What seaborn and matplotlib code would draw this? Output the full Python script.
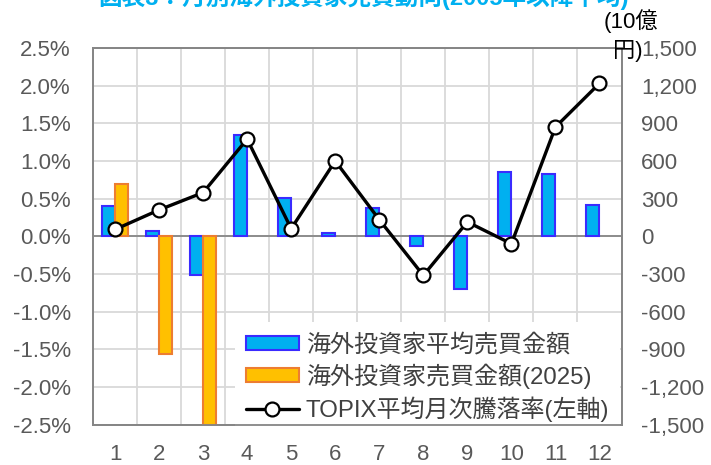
import numpy as np
import pandas as pd
import matplotlib
matplotlib.use("Agg")
import matplotlib.pyplot as plt
import seaborn as sns
from matplotlib.patches import Patch
from matplotlib.lines import Line2D
from matplotlib.ticker import FuncFormatter, FixedLocator

# ---------------- data ----------------
months = ["1", "2", "3", "4", "5", "6", "7", "8", "9", "10", "11", "12"]
avg_flow = [245, 45, -310, 810, 305, 25, 225, -80, -420, 510, 495, 250]          # 10億円
flow_2025 = [420, -935, -1500, np.nan, np.nan, np.nan, np.nan, np.nan, np.nan,
             np.nan, np.nan, np.nan]                                                # 10億円
topix_ret = [0.09, 0.35, 0.58, 1.29, 0.10, 1.00, 0.22, -0.52, 0.19, -0.10, 1.45, 2.03]  # %

s_avg = "海外投資家平均売買金額"
s_2025 = "海外投資家売買金額(2025)"
s_line = "TOPIX平均月次騰落率(左軸)"
title = "図表3：月別海外投資家売買動向(2005年以降平均)"
unit_top = "(10億"
unit_bot = "円)"

left_ticks = [-2.5, -2.0, -1.5, -1.0, -0.5, 0.0, 0.5, 1.0, 1.5, 2.0, 2.5]
right_ticks = [-1500, -1200, -900, -600, -300, 0, 300, 600, 900, 1200, 1500]

df = pd.DataFrame({
    "month": months * 2,
    "series": [s_avg] * 12 + [s_2025] * 12,
    "value": avg_flow + flow_2025,
})

# ---------------- style ----------------
sns.set_theme(style="white")
plt.rcParams["font.family"] = ["Liberation Sans", "Noto Sans CJK JP", "DejaVu Sans"]

blue = "#00B0F0"
blue_edge = "#3A2BFF"
orange = "#FFC000"
orange_edge = "#ED7D31"
grid_c = "#D9D9D9"
spine_c = "#868686"
tick_c = "#595959"
fs = 16

fig = plt.figure(figsize=(7.11, 4.65), dpi=100)
ax = fig.add_axes([93 / 711, 1 - 424.5 / 465, (621.5 - 93) / 711, (424.5 - 48) / 465])
ax2 = ax.twinx()

sns.barplot(data=df, x="month", y="value", hue="series", hue_order=[s_avg, s_2025],
            palette=[blue, orange], width=0.6, saturation=1, ax=ax, legend=False,
            zorder=3)
for cont, ec in zip(ax.containers, [blue_edge, orange_edge]):
    for p in cont:
        p.set_edgecolor(ec)
        p.set_linewidth(1.5)

ax.set_xlim(-0.5, 11.5)
ax.set_ylim(-1500, 1500)
ax.yaxis.set_major_locator(FixedLocator(right_ticks))
ax.yaxis.set_major_formatter(FuncFormatter(lambda v, p: f"{int(v):,}"))
ax.set_xlabel("")
ax.set_ylabel("")
ax.set_xticks(np.arange(-0.5, 12, 1), minor=True)
ax.grid(axis="y", which="major", color=grid_c, lw=1.3, zorder=0)
ax.grid(axis="x", which="minor", color=grid_c, lw=1.3, zorder=0)
ax.grid(axis="x", which="major", visible=False)
ax.set_axisbelow(True)
ax.axhline(0, color=spine_c, lw=1.3, zorder=2)

sns.lineplot(x=np.arange(12), y=topix_ret, ax=ax2, color="black", lw=2.4,
             marker="o", markersize=10, markerfacecolor="white",
             markeredgecolor="black", markeredgewidth=1.6, zorder=5)
ax2.set_ylim(-2.5, 2.5)
ax2.set_xlim(-0.5, 11.5)
ax2.yaxis.set_major_locator(FixedLocator(left_ticks))
ax2.yaxis.set_major_formatter(FuncFormatter(lambda v, p: f"{v:.1f}%"))
ax2.grid(False)

# bars axis ticks on the right, line axis ticks on the left
ax.yaxis.set_ticks_position("right")
ax.yaxis.set_label_position("right")
ax2.yaxis.set_ticks_position("left")
ax2.yaxis.set_label_position("left")

ax.tick_params(axis="both", which="both", length=0, labelsize=fs, colors=tick_c)
ax.tick_params(axis="y", pad=14, labelleft=False, labelright=True)
ax.tick_params(axis="x", pad=14)
ax2.tick_params(axis="both", which="both", length=0, labelsize=fs, colors=tick_c)
ax2.tick_params(axis="y", pad=16, labelleft=True, labelright=False)

for a in (ax, ax2):
    for sp in a.spines.values():
        sp.set_color(spine_c)
        sp.set_linewidth(1.3)

handles = [
    Patch(facecolor=blue, edgecolor=blue_edge, linewidth=1.5),
    Patch(facecolor=orange, edgecolor=orange_edge, linewidth=1.5),
    Line2D([0], [0], color="black", lw=2.4, marker="o", markersize=10,
           markerfacecolor="white", markeredgecolor="black", markeredgewidth=1.6),
]
leg = ax2.legend(handles, [s_avg, s_2025, s_line], loc="lower right",
                 bbox_to_anchor=(1.0, -0.024), borderaxespad=0.05, fontsize=17.3,
                 frameon=True, fancybox=False, framealpha=1, edgecolor="none",
                 facecolor="white", handlelength=2.2, handleheight=0.5,
                 handletextpad=0.3, labelspacing=0.3, borderpad=0.45)
for t in leg.get_texts():
    t.set_color("#404040")
leg.set_zorder(2)  # below the spines so the frame does not hide them

fig.text(363 / 711, 1 - 5 / 465, title, color="#00B0F0", fontsize=17,
         fontweight="bold", ha="center", va="baseline")
fig.text(631 / 711, 1 - 28 / 465, unit_top, color="black", fontsize=fs,
         ha="center", va="baseline")
fig.text(628 / 711, 1 - 57 / 465, unit_bot, color="black", fontsize=fs,
         ha="center", va="baseline")

fig.savefig("out.png", dpi=100)
